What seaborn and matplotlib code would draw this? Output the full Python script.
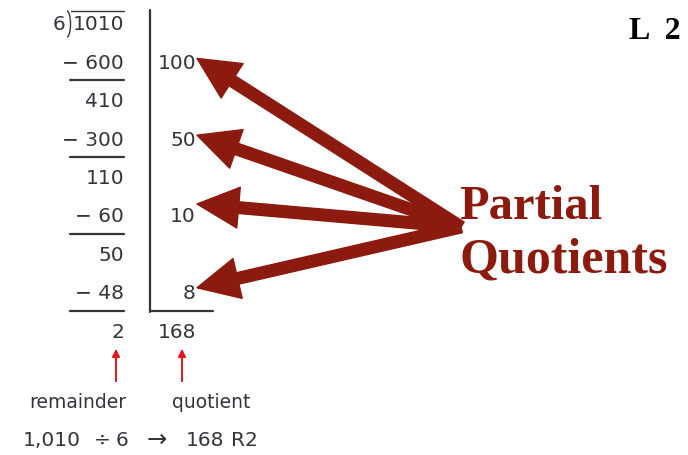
"""
plot.py
Partial quotients diagram for 1,010 / 6, drawn on a pixel-sized axes.
"""

import matplotlib
matplotlib.use("Agg")
import matplotlib.pyplot as plt
from matplotlib.patches import Arc
import seaborn as sns

# ----------------------------------------------------------------------
# Data
# ----------------------------------------------------------------------
dividend = 1010
divisor = 6
subtracted = [600, 300, 60, 48]
remainders = [410, 110, 50, 2]
partials = [100, 50, 10, 8]
quotient = sum(partials)

# ----------------------------------------------------------------------
# Style
# ----------------------------------------------------------------------
sns.set_style("white")
plt.rcParams["font.family"] = ["DejaVu Sans"]

INK = "#34343c"
DARK_RED = "#8c1a0f"
RED = "#e8141e"
FS = 14.5

ROW0 = 25
ROW_STEP = 38.4
LEFT_RIGHT = 124   # right edge of the working column
PQ_RIGHT = 196     # right edge of the partial quotient column
BAR_X = 150
# small vertical nudges for the big arrow tips
TIP_SHIFT = [-5, -5, -13, -6]

fig = plt.figure(figsize=(6.88, 4.55), dpi=100)
ax = fig.add_axes([0, 0, 1, 1])
ax.set_xlim(0, 688)
ax.set_ylim(455, 0)
ax.axis("off")


def row_y(i):
    return ROW0 + ROW_STEP * i


# dividend row with the division bracket
ax.text(LEFT_RIGHT, row_y(0), f"{dividend}", ha="right", va="center",
        fontsize=FS, color=INK)
ax.text(65, row_y(0), f"{divisor}", ha="right", va="center",
        fontsize=FS, color=INK)
ax.plot([71, LEFT_RIGHT], [11, 11], color=INK, lw=1.0)
ax.add_patch(Arc((67, 24), 7, 26, theta1=-90, theta2=90, color=INK, lw=1.0))

# subtraction steps
for k, (sub, rem, pq) in enumerate(zip(subtracted, remainders, partials)):
    y_sub = row_y(2 * k + 1)
    y_rem = row_y(2 * k + 2)
    ax.text(LEFT_RIGHT, y_sub, f"\u2212 {sub}", ha="right", va="center",
            fontsize=FS, color=INK)
    ax.plot([70, LEFT_RIGHT], [y_sub + 17, y_sub + 17], color=INK, lw=1.6)
    ax.text(LEFT_RIGHT, y_rem, f"{rem}", ha="right", va="center",
            fontsize=FS, color=INK)
    ax.text(PQ_RIGHT, y_sub, f"{pq}", ha="right", va="center",
            fontsize=FS, color=INK)

# quotient column lines
y_last = row_y(len(remainders) * 2)
ax.plot([BAR_X, BAR_X], [10, 312], color=INK, lw=1.6)
ax.plot([BAR_X, 213], [311, 311], color=INK, lw=1.6)
ax.text(PQ_RIGHT, y_last, f"{quotient}", ha="right", va="center",
        fontsize=FS, color=INK)

# labels under the result
for x in [116, 182]:
    ax.annotate("", xy=(x, 346), xytext=(x, 384),
                arrowprops=dict(arrowstyle="-|>", color=RED, lw=1.4,
                                mutation_scale=11))
ax.text(78, 402, "remainder", ha="center", va="center", fontsize=13.5,
        color=INK)
ax.text(211, 402, "quotient", ha="center", va="center", fontsize=13.5,
        color=INK)

# summary line, one token at a time so the spacing matches
summary = [f"1,{dividend % 1000:03d}", "\u00f7", f"{divisor}", "\u2192",
           f"{quotient}", f"R{remainders[-1]}"]
summary_x = [23, 94, 116, 147, 186, 231]
summary_fs = [FS, FS, FS, FS + 3, FS, FS]
for x, tok, fs in zip(summary_x, summary, summary_fs):
    ax.text(x, 440, tok, ha="left", va="center", fontsize=fs, color=INK)

# big arrows pointing at the partial quotients
tails = (461, 227)
for k in range(len(partials)):
    y_tip = row_y(2 * k + 1) + TIP_SHIFT[k]
    ax.annotate("", xy=(PQ_RIGHT + 1, y_tip), xytext=tails,
                arrowprops=dict(arrowstyle="simple,head_length=1.0,head_width=0.98,tail_width=0.28",
                                color=DARK_RED, mutation_scale=30,
                                shrinkA=0, shrinkB=0))

ax.text(459, 219, "Partial", ha="left", va="baseline", fontsize=35,
        fontweight="bold", color=DARK_RED, family=["Liberation Serif"])
ax.text(459, 273, "Quotients", ha="left", va="baseline", fontsize=36,
        fontweight="bold", color=DARK_RED, family=["Liberation Serif"])

ax.text(681, 39, "L  2", ha="right", va="baseline", fontsize=23,
        fontweight="bold", color="black", family=["Liberation Serif"])

fig.savefig("out.png", dpi=100)
